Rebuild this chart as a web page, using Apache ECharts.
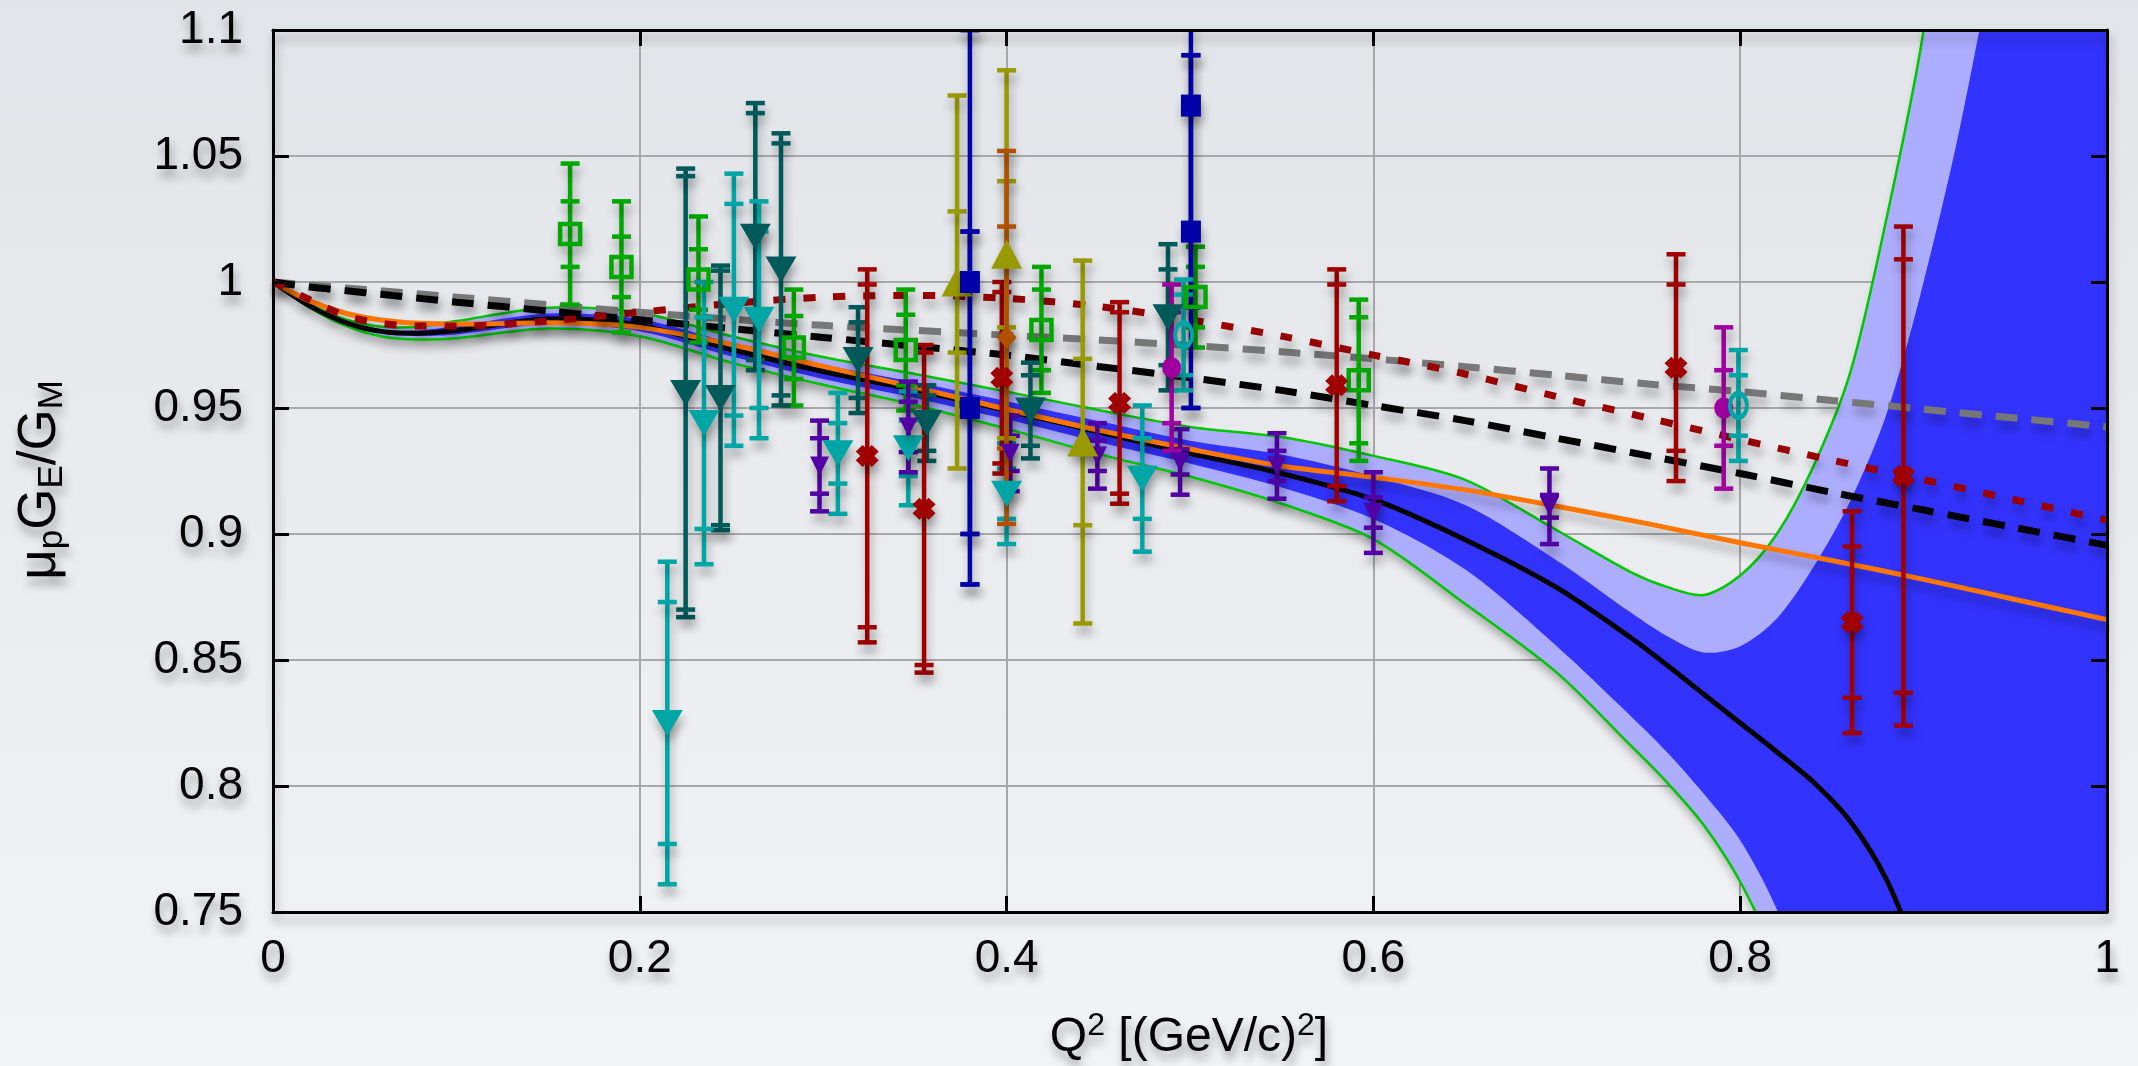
<!DOCTYPE html>
<html><head><meta charset="utf-8">
<script src="https://cdn.jsdelivr.net/npm/echarts/dist/echarts.min.js"></script>
<style>html,body{margin:0;padding:0;width:2138px;height:1066px;overflow:hidden;background:#e9ebee;}#c{width:2138px;height:1066px;}</style>
</head><body><div id="c"></div><script>
// ---------- axis ticks ----------
const xTicks = [0, 0.2, 0.4, 0.6, 0.8, 1];
const yTicks = [0.75, 0.8, 0.85, 0.9, 0.95, 1, 1.05, 1.1];

// ---------- fit band (x grid + edges) ----------
const bandX      = [0, 0.02, 0.04, 0.06, 0.08, 0.1, 0.15, 0.2, 0.25, 0.3, 0.35, 0.4, 0.45, 0.5, 0.55, 0.6, 0.65, 0.7, 0.74, 0.76, 0.78, 0.8, 0.82, 0.84, 0.86, 0.88, 0.9, 0.92, 0.94, 0.97, 1.0];
const fitCentral = [1.0, 0.9905, 0.9838, 0.9803, 0.9797, 0.9808, 0.9853, 0.9828, 0.9732, 0.9645, 0.9572, 0.949, 0.9405, 0.932, 0.924, 0.9137, 0.8977, 0.8787, 0.859, 0.848, 0.8365, 0.825, 0.8135, 0.8015, 0.786, 0.7625, 0.727, 0.69, 0.65, 0.6, 0.55];
const bandUpper2 = [1.0, 0.9912, 0.985, 0.9822, 0.9823, 0.9845, 0.9898, 0.9878, 0.9785, 0.9702, 0.9635, 0.9565, 0.9492, 0.9425, 0.9385, 0.931, 0.9215, 0.9015, 0.885, 0.879, 0.8758, 0.8835, 0.900, 0.927, 0.964, 1.026, 1.1, 1.22, 1.35, 1.5, 1.7];
const bandUpper1 = [1.0, 0.9908, 0.9843, 0.9811, 0.9808, 0.9825, 0.9875, 0.9853, 0.9758, 0.9673, 0.9603, 0.9527, 0.9448, 0.937, 0.9315, 0.9228, 0.9115, 0.8895, 0.869, 0.8595, 0.853, 0.8555, 0.8665, 0.887, 0.913, 0.948, 1.0, 1.062, 1.14, 1.3, 1.5];
const bandLower1 = [1.0, 0.9902, 0.9833, 0.9795, 0.9786, 0.9792, 0.9832, 0.9805, 0.9705, 0.9615, 0.954, 0.9455, 0.9365, 0.928, 0.9185, 0.906, 0.886, 0.8555, 0.828, 0.8135, 0.797, 0.7785, 0.751, 0.71, 0.66, 0.6, 0.5, 0.4, 0.3, 0.2, 0.1];
const bandLower2 = [1.0, 0.9898, 0.9825, 0.9783, 0.9772, 0.9777, 0.9815, 0.9785, 0.968, 0.9592, 0.9512, 0.9418, 0.9318, 0.9228, 0.912, 0.898, 0.8723, 0.845, 0.8163, 0.8015, 0.7846, 0.762, 0.731, 0.69, 0.63, 0.55, 0.45, 0.35, 0.25, 0.1, 0.0];

// ---------- other model curves ----------
const lineX       = [0, 0.02, 0.04, 0.06, 0.08, 0.1, 0.15, 0.2, 0.25, 0.3, 0.35, 0.4, 0.45, 0.5, 0.55, 0.6, 0.65, 0.7, 0.75, 0.8, 0.85, 0.9, 0.95, 1.0];
const orangeFit   = [1.0, 0.9925, 0.9875, 0.9848, 0.9836, 0.9833, 0.9838, 0.982, 0.9752, 0.9665, 0.9582, 0.9495, 0.9412, 0.9337, 0.927, 0.9225, 0.9175, 0.911, 0.904, 0.8965, 0.8895, 0.882, 0.874, 0.866];
const blackDashed = [1.0, 0.998, 0.9965, 0.995, 0.9935, 0.992, 0.9885, 0.985, 0.9815, 0.978, 0.9745, 0.971, 0.9665, 0.962, 0.957, 0.951, 0.945, 0.938, 0.931, 0.924, 0.9165, 0.9095, 0.9025, 0.8955];
const grayDashed  = [1.0, 0.9988, 0.9976, 0.9964, 0.9952, 0.994, 0.991, 0.988, 0.9852, 0.9828, 0.9808, 0.9789, 0.977, 0.9748, 0.9723, 0.9695, 0.9664, 0.963, 0.9595, 0.9565, 0.953, 0.9495, 0.946, 0.9425];
const redDotted   = [1.0, 0.993, 0.9865, 0.9835, 0.9825, 0.9825, 0.9845, 0.988, 0.9915, 0.994, 0.9947, 0.9935, 0.9903, 0.985, 0.9785, 0.971, 0.9635, 0.9545, 0.946, 0.9375, 0.9293, 0.9215, 0.9135, 0.9055];

// ---------- data points: [Q2, ratio, statErr, totalErr] ----------
const greenSquares = [[0.162,1.019,0.013,0.028],[0.190,1.006,0.012,0.026],[0.232,1.001,0.012,0.025],[0.284,0.974,0.0125,0.023],[0.345,0.973,0.014,0.024],[0.419,0.981,0.016,0.025],[0.503,0.994,0.012,0.020],[0.592,0.961,0.025,0.032]];
const darkTealTri  = [[0.225,0.956,0.086,0.089],[0.244,0.954,0.0505,0.0525],[0.263,1.018,0.049,0.053],[0.277,1.005,0.050,0.054],[0.319,0.969,0.015,0.021],[0.3565,0.944,0.011,0.015],[0.413,0.949,0.014,0.019],[0.488,0.986,0.019,0.029]];
const tealTri      = [[0.215,0.825,0.048,0.064],[0.235,0.944,0.042,0.056],[0.2513,0.989,0.042,0.054],[0.265,0.985,0.035,0.047],[0.308,0.932,0.012,0.024],[0.3464,0.934,0.011,0.0226],[0.400,0.916,0.010,0.020],[0.474,0.922,0.016,0.029]];
const purpleTri    = [[0.298,0.927,0.011,0.018],[0.3464,0.9425,0.010,0.018],[0.402,0.932,0.007,0.015],[0.4495,0.931,0.006,0.013],[0.4946,0.9286,0.005,0.013],[0.5474,0.927,0.006,0.013],[0.600,0.9085,0.006,0.016],[0.696,0.911,0.0045,0.015]];
const redCrosses   = [[0.324,0.931,0.068,0.074],[0.355,0.910,0.062,0.065],[0.3974,0.962,0.034,0.038],[0.4616,0.952,0.036,0.040],[0.580,0.959,0.040,0.046],[0.765,0.966,0.033,0.045],[0.861,0.865,0.030,0.044],[0.889,0.923,0.086,0.099]];
const oliveTri     = [[0.373,1.000,0.028,0.074],[0.400,1.011,0.029,0.073],[0.4415,0.9365,0.033,0.072]];
const orangeDiam   = [[0.400,0.978,0.044,0.074]];
const blueSquares  = [[0.380,1.000,0.100,0.100],[0.380,0.950,0.070,0.070],[0.5005,1.070,0.080,0.080],[0.5005,1.020,0.070,0.070]];
const magentaDots  = [[0.490,0.966,0.022,0.033],[0.791,0.950,0.015,0.032]];
const cyanCircles  = [[0.4965,0.979,0.016,0.022],[0.799,0.951,0.012,0.022]];

// ---------- rendering ----------
const FONT = '"Liberation Sans", Arial, Helvetica, sans-serif';
const SH = {shadowBlur: 10, shadowColor: 'rgba(0,0,0,0.30)', shadowOffsetX: 2, shadowOffsetY: 8};
const TSH = {textShadowColor: 'rgba(0,0,0,0.35)', textShadowBlur: 10, textShadowOffsetX: 2, textShadowOffsetY: 8};
const fmt = v => String(Math.round(v * 100) / 100);

function errSeries(data, color, z) {
  return {
    type: 'custom', data: data, clip: true, silent: true, z: z,
    encode: {x: 0, y: 1},
    renderItem: function (params, api) {
      const x = api.value(0), y = api.value(1), s = api.value(2), t = api.value(3);
      const pT = api.coord([x, y + t]), pB = api.coord([x, y - t]);
      const sT = api.coord([x, y + s]), sB = api.coord([x, y - s]);
      const hw = 9.5;
      const st = Object.assign({stroke: color, lineWidth: 4.5}, SH);
      const seg = (x1, y1, x2, y2) => ({type: 'line', shape: {x1, y1, x2, y2}, style: st});
      return {type: 'group', children: [
        seg(pT[0], pT[1], pB[0], pB[1]),
        seg(pT[0] - hw, pT[1], pT[0] + hw, pT[1]),
        seg(pB[0] - hw, pB[1], pB[0] + hw, pB[1]),
        seg(sT[0] - hw, sT[1], sT[0] + hw, sT[1]),
        seg(sB[0] - hw, sB[1], sB[0] + hw, sB[1])
      ]};
    }
  };
}
function markerSeries(data, o) {
  return {
    type: 'scatter', silent: true, z: 12, clip: true,
    data: data.map(d => [d[0], d[1]]),
    symbol: o.symbol, symbolSize: o.size, symbolRotate: o.rotate || 0,
    itemStyle: Object.assign({color: o.fill, borderColor: o.stroke || o.fill, borderWidth: o.bw || 0, opacity: 1}, SH)
  };
}
function lineSeries(ys, color, width, type, z) {
  return {
    type: 'line', silent: true, z: z, clip: true, showSymbol: false, symbol: 'none', smooth: 0.3,
    data: lineX.map((x, i) => [x, ys[i]]),
    lineStyle: Object.assign({color: color, width: width, type: type, cap: 'butt'}, SH)
  };
}
const CROSS = 'path://M3,0 L5,2 L7,0 L10,3 L8,5 L10,7 L7,10 L5,8 L3,10 L0,7 L2,5 L0,3 Z';

const bandSeries = {
  type: 'custom', silent: true, clip: true, z: 3,
  data: [[bandX[0], fitCentral[0]]],
  encode: {x: 0, y: 1},
  renderItem: function (params, api) {
    const pts = ys => bandX.map((x, i) => api.coord([x, ys[i]]));
    const ring = (up, lo) => pts(up).concat(pts(lo).reverse());
    const sm = 0.3;
    return {type: 'group', children: [
      {type: 'polygon', shape: {points: ring(bandUpper2, bandLower2), smooth: sm}, style: Object.assign({fill: '#adadff'}, SH)},
      {type: 'polygon', shape: {points: ring(bandUpper1, bandLower1), smooth: sm}, style: {fill: '#3333ff'}},
      {type: 'polyline', shape: {points: pts(bandUpper2), smooth: sm}, style: {stroke: '#00c800', lineWidth: 2.5, fill: null}},
      {type: 'polyline', shape: {points: pts(bandLower2), smooth: sm}, style: {stroke: '#00c800', lineWidth: 2.5, fill: null}},
      {type: 'polyline', shape: {points: pts(fitCentral), smooth: sm}, style: {stroke: '#000', lineWidth: 5, fill: null}}
    ]};
  }
};

const xMin = xTicks[0], xMax = xTicks[xTicks.length - 1], xInt = xTicks[1] - xTicks[0];
const yMin = yTicks[0], yMax = yTicks[yTicks.length - 1], yInt = Math.round((yTicks[1] - yTicks[0]) * 100) / 100;

const labelStyle = Object.assign({fontFamily: FONT, fontSize: 46, color: '#000', formatter: fmt}, TSH);
const frameLine = {show: true, onZero: false, lineStyle: Object.assign({color: '#000', width: 3}, SH)};
const frameTick = {show: true, inside: true, length: 16, lineStyle: {color: '#000', width: 3}};
function frameAxis(pos) {
  return {type: 'value', gridIndex: 0, position: pos, z: 50, axisLine: frameLine, axisTick: frameTick,
          axisLabel: {show: false}, splitLine: {show: false}};
}

const option = {
  animation: false,
  backgroundColor: {type: 'linear', x: 0, y: 0, x2: 0, y2: 1, colorStops: [{offset: 0, color: '#e1e4e8'}, {offset: 1, color: '#f2f3f5'}]},
  grid: {left: 273, top: 30, width: 1834, height: 882, containLabel: false, outerBoundsMode: 'none', show: false},
  xAxis: [
    {type: 'value', gridIndex: 0, position: 'bottom', min: xMin, max: xMax, interval: xInt, z: 0,
     axisLine: {show: false, onZero: false}, axisTick: {show: false},
     splitLine: {show: true, lineStyle: {color: '#a8a8a8', width: 2}},
     axisLabel: Object.assign({margin: 24}, labelStyle)},
    Object.assign(frameAxis('bottom'), {min: xMin, max: xMax, interval: xInt}),
    Object.assign(frameAxis('top'), {min: xMin, max: xMax, interval: xInt})
  ],
  yAxis: [
    {type: 'value', gridIndex: 0, position: 'left', min: yMin, max: yMax, interval: yInt, z: 0,
     axisLine: {show: false, onZero: false}, axisTick: {show: false},
     splitLine: {show: true, lineStyle: {color: '#a8a8a8', width: 2}},
     axisLabel: Object.assign({margin: 30}, labelStyle)},
    Object.assign(frameAxis('left'), {min: yMin, max: yMax, interval: yInt}),
    Object.assign(frameAxis('right'), {min: yMin, max: yMax, interval: yInt})
  ],
  graphic: [
    {type: 'text', x: 1189, y: 1038, z: 100, silent: true,
     style: Object.assign({
       text: '{m|Q}{s|2}{m| [(GeV/c)}{s|2}{m|]}', align: 'center', verticalAlign: 'middle',
       rich: {m: {fontSize: 48, lineHeight: 56, fontFamily: FONT, fill: '#000'},
              s: {fontSize: 32, lineHeight: 12, verticalAlign: 'top', fontFamily: FONT, fill: '#000'}}
     }, TSH)},
    {type: 'text', x: 40, y: 480, rotation: Math.PI / 2, z: 100, silent: true,
     style: Object.assign({
       text: '{m|μ}{s|p}{m|G}{s|E}{m|/G}{s|M}', align: 'center', verticalAlign: 'middle',
       rich: {m: {fontSize: 53, lineHeight: 60, fontFamily: FONT, fill: '#000'},
              s: {fontSize: 35, lineHeight: 22, verticalAlign: 'bottom', fontFamily: FONT, fill: '#000'}}
     }, TSH)}
  ],
  series: [
    bandSeries,
    lineSeries(orangeFit, '#ff7700', 5, 'solid', 6),
    lineSeries(grayDashed, '#777777', 7, [22, 14], 7),
    lineSeries(blackDashed, '#000000', 7, [22, 14], 8),
    lineSeries(redDotted, '#990000', 7, [12, 18], 9),

    errSeries(greenSquares, '#00a800', 10),
    errSeries(darkTealTri, '#005a5a', 10),
    errSeries(tealTri, '#00a5a5', 10),
    errSeries(purpleTri, '#5200a6', 10),
    errSeries(redCrosses, '#a00000', 10),
    errSeries(oliveTri, '#999900', 10),
    errSeries(orangeDiam, '#b05000', 10),
    errSeries(blueSquares, '#0000a8', 10),
    errSeries(magentaDots, '#a000a0', 10),
    errSeries(cyanCircles, '#00a5a5', 10),

    markerSeries(greenSquares, {symbol: 'rect', size: [20, 20], fill: 'rgba(0,0,0,0)', stroke: '#00a800', bw: 4.5}),
    markerSeries(darkTealTri, {symbol: 'triangle', size: [31, 26], rotate: 180, fill: '#005a5a'}),
    markerSeries(tealTri, {symbol: 'triangle', size: [31, 26], rotate: 180, fill: '#00a5a5'}),
    markerSeries(purpleTri, {symbol: 'triangle', size: [19, 19], rotate: 180, fill: '#5200a6'}),
    markerSeries(redCrosses, {symbol: CROSS, size: [23, 22], fill: '#a00000'}),
    markerSeries(oliveTri, {symbol: 'triangle', size: [31, 29], fill: '#999900'}),
    markerSeries(orangeDiam, {symbol: 'diamond', size: [20, 22], fill: '#b05000'}),
    markerSeries(blueSquares, {symbol: 'rect', size: [20, 22], fill: '#0000a8'}),
    markerSeries(magentaDots, {symbol: 'circle', size: [19, 21], fill: '#a000a0'}),
    markerSeries(cyanCircles, {symbol: 'circle', size: [17, 24], fill: 'rgba(0,0,0,0)', stroke: '#00a5a5', bw: 4.5})
  ]
};
const chart = echarts.init(document.getElementById('c'), null, {renderer: 'canvas', width: 2138, height: 1066});
chart.setOption(option);
</script></body></html>
